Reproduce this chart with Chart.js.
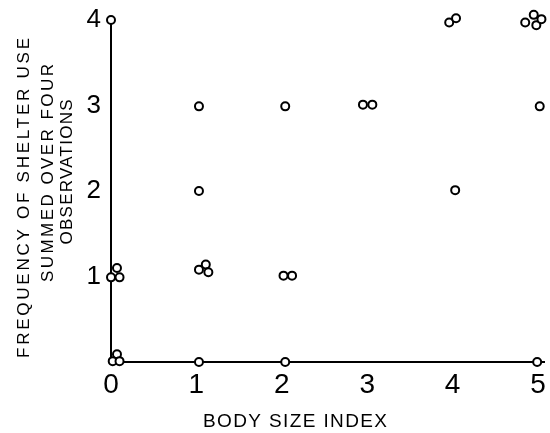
<!DOCTYPE html>
<html>
<head>
<meta charset="utf-8">
<title>Body size index x shelter use</title>
<script src="https://cdn.jsdelivr.net/npm/chart.js@4/dist/chart.umd.min.js"></script>
<style>
  body { margin: 0; background: #fff; }
  canvas { display: block; }
</style>
</head>
<body>
<canvas id="grafico" width="550" height="433"></canvas>
<script>
// pontos (um círculo por animal)
const bodySize = [0.00, 1.03, 2.04, 2.95, 3.06, 5.02, 3.97, 3.96, 4.04, 4.85, 4.95, 4.98, 5.04,
  1.03, 4.03, 0.07, 0.00, 0.10, 1.11, 1.03, 1.14, 2.02, 2.12, 0.07, 0.02, 0.10, 1.03, 2.04, 4.99];
const shelterUse = [4.00, 2.99, 2.99, 3.01, 3.01, 2.99, 4.09, 3.97, 4.02, 3.97, 4.06, 3.94, 4.01,
  2.00, 2.01, 1.10, 0.99, 0.99, 1.14, 1.08, 1.05, 1.01, 1.01, 0.09, 0.01, 0.01, 0.00, 0.00, 0.00];

const xTicks = [0, 1, 2, 3, 4, 5];
const yTicks = [1, 2, 3, 4];

const xTitle = 'BODY SIZE INDEX';
const yTitle = ['FREQUENCY OF SHELTER USE', 'SUMMED OVER FOUR', 'OBSERVATIONS'];

const fonte = '"Liberation Sans", Arial, sans-serif';

function textoEspacado(ctx, texto, x, y, larguraAlvo) {
  ctx.letterSpacing = '0px';
  const w = ctx.measureText(texto).width;
  const esp = Math.max(0, (larguraAlvo - w) / (texto.length - 1));
  ctx.letterSpacing = esp + 'px';
  ctx.fillText(texto, x + esp / 2, y);
  ctx.letterSpacing = '0px';
}

const titulos = {
  id: 'titulos',
  afterDraw(chart) {
    const ctx = chart.ctx;
    ctx.save();
    ctx.fillStyle = '#000';
    ctx.textAlign = 'center';
    ctx.textBaseline = 'middle';

    ctx.font = '19px ' + fonte;
    textoEspacado(ctx, xTitle, 295, 422, 184);

    // eixo y: três linhas giradas
    const linhas = [
      { x: 24, y: 198, w: 320 },
      { x: 48, y: 173, w: 218 },
      { x: 67, y: 172, w: 145 }
    ];
    ctx.font = '17px ' + fonte;
    yTitle.forEach((t, i) => {
      const l = linhas[i];
      ctx.save();
      ctx.translate(l.x, l.y);
      ctx.rotate(-Math.PI / 2);
      textoEspacado(ctx, t, 0, 0, l.w);
      ctx.restore();
    });
    ctx.restore();
  }
};

const pontos = bodySize.map((x, i) => ({ x: x, y: shelterUse[i] }));

new Chart(document.getElementById('grafico'), {
  type: 'scatter',
  data: {
    datasets: [{
      label: 'Shelter use',
      data: pontos,
      pointRadius: 4,
      pointHoverRadius: 4,
      borderWidth: 2,
      borderColor: '#000',
      backgroundColor: '#fff',
      clip: false
    }]
  },
  options: {
    responsive: false,
    animation: false,
    devicePixelRatio: 1,
    layout: { padding: { top: 20, right: 2, left: 0, bottom: 0 } },
    plugins: {
      legend: { display: false },
      tooltip: { enabled: false }
    },
    scales: {
      x: {
        type: 'linear',
        min: 0,
        max: 5.07,
        afterBuildTicks: s => { s.ticks = xTicks.map(v => ({ value: v })); },
        afterFit: s => { s.height = 433 - 362; s.paddingLeft = 0; s.paddingRight = 0; },
        grid: { display: false, drawTicks: false },
        border: { display: true, color: '#000', width: 2 },
        ticks: {
          color: '#000',
          padding: 6,
          maxRotation: 0,
          autoSkip: false,
          font: { family: fonte, size: 28 }
        }
      },
      y: {
        type: 'linear',
        min: 0,
        max: 4,
        afterBuildTicks: s => { s.ticks = yTicks.map(v => ({ value: v })); },
        afterFit: s => { s.width = 111; s.paddingTop = 0; s.paddingBottom = 0; },
        grid: { display: false, drawTicks: false },
        border: { display: true, color: '#000', width: 2 },
        ticks: {
          color: '#000',
          padding: 10,
          font: { family: fonte, size: 26 }
        }
      }
    }
  },
  plugins: [titulos]
});
</script>
</body>
</html>
